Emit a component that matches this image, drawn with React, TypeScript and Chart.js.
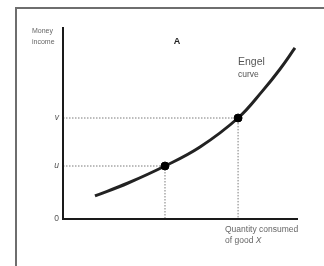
import React, { useEffect, useRef } from "react";
import { Chart, registerables } from "chart.js";

Chart.register(...registerables);

// Engel curve (quantity of good X vs money income), arbitrary 0..100 units
const curveX = [13.6, 27.7, 43.4, 58.3, 74.5, 85.1, 92.3, 98.7];
const curveY = [12.0, 18.75, 27.6, 37.5, 52.6, 67.0, 78.0, 89.1];

// marked points on the curve (income levels u and v)
const markX = [43.4, 74.5];
const markY = [27.6, 52.6];

// y-axis tick labels
const tickValues = [0, 27.6, 52.6];
const tickLabels = ["0", "u", "v"];

const FONT = "'Liberation Sans', Arial, sans-serif";

const overlay = {
  id: "overlay",
  beforeDraw(chart: any) {
    const { ctx } = chart;
    ctx.save();
    ctx.fillStyle = "#ffffff";
    ctx.fillRect(0, 0, chart.width, chart.height);
    // frame
    ctx.strokeStyle = "#6e6e6e";
    ctx.lineWidth = 2;
    ctx.beginPath();
    ctx.moveTo(16, chart.height + 2);
    ctx.lineTo(16, 8);
    ctx.lineTo(chart.width + 2, 8);
    ctx.stroke();
    ctx.restore();
  },
  afterDatasetsDraw(chart: any) {
    const { ctx, chartArea } = chart;
    const ys = chart.scales.y;
    ctx.save();
    // axes
    ctx.strokeStyle = "#1a1a1a";
    ctx.lineWidth = 2;
    ctx.beginPath();
    ctx.moveTo(chartArea.left, chartArea.top);
    ctx.lineTo(chartArea.left, chartArea.bottom);
    ctx.lineTo(chartArea.right, chartArea.bottom);
    ctx.stroke();

    // y tick labels
    ctx.fillStyle = "#555";
    ctx.textAlign = "right";
    ctx.textBaseline = "middle";
    tickValues.forEach((v, i) => {
      ctx.font = (i === 0 ? "" : "italic ") + "8.5px " + FONT;
      ctx.fillText(tickLabels[i], chartArea.left - 4, ys.getPixelForValue(v));
    });

    // axis titles
    ctx.textAlign = "left";
    ctx.font = "7px " + FONT;
    ctx.fillStyle = "#666";
    ctx.fillText("Money", 32, 31);
    ctx.fillText("income", 32, 42);

    ctx.font = "8.5px " + FONT;
    ctx.fillText("Quantity consumed", 225, chartArea.bottom + 11);
    ctx.fillText("of good ", 225, chartArea.bottom + 22);
    const w = ctx.measureText("of good ").width;
    ctx.font = "italic 8.5px " + FONT;
    ctx.fillText("X", 225 + w, chartArea.bottom + 22);

    // panel label
    ctx.fillStyle = "#222";
    ctx.font = "bold 9px " + FONT;
    ctx.textAlign = "center";
    ctx.fillText("A", 177, 42);

    // curve label
    ctx.fillStyle = "#555";
    ctx.textAlign = "left";
    ctx.font = "10.5px " + FONT;
    ctx.fillText("Engel", 238, 62);
    ctx.font = "8.5px " + FONT;
    ctx.fillText("curve", 238, 75);
    ctx.restore();
  },
};

export default function App() {
  const ref = useRef<HTMLCanvasElement>(null);
  useEffect(() => {
    if (!ref.current) return;
    const dropLines = markX.map((x, i) => ({
      type: "line" as const,
      data: [
        { x: 0, y: markY[i] },
        { x, y: markY[i] },
        { x, y: 0 },
      ],
      borderColor: "#7a7a7a",
      borderWidth: 1,
      borderDash: [1.5, 1.5],
      pointRadius: 0,
      tension: 0,
      order: 3,
    }));
    const chart = new Chart(ref.current, {
      type: "line",
      data: {
        datasets: [
          ...dropLines,
          {
            data: curveX.map((x, i) => ({ x, y: curveY[i] })),
            borderColor: "#222",
            borderWidth: 3,
            pointRadius: 0,
            tension: 0.4,
            order: 2,
          },
          {
            data: markX.map((x, i) => ({ x, y: markY[i] })),
            showLine: false,
            pointRadius: 4,
            pointBackgroundColor: "#000",
            pointBorderColor: "#000",
            order: 1,
          },
        ],
      },
      options: {
        responsive: false,
        animation: false,
        layout: { padding: { left: 63, right: 26, top: 27, bottom: 47 } },
        plugins: { legend: { display: false }, tooltip: { enabled: false } },
        scales: {
          x: { type: "linear", min: 0, max: 100, display: false },
          y: { type: "linear", min: 0, max: 100, display: false },
        },
      },
      plugins: [overlay],
    });
    return () => chart.destroy();
  }, []);
  return (
    <div style={{ position: "fixed", left: 0, top: 0, width: 324, height: 266 }}>
      <canvas ref={ref} width={324} height={266} style={{ display: "block" }} />
    </div>
  );
}
